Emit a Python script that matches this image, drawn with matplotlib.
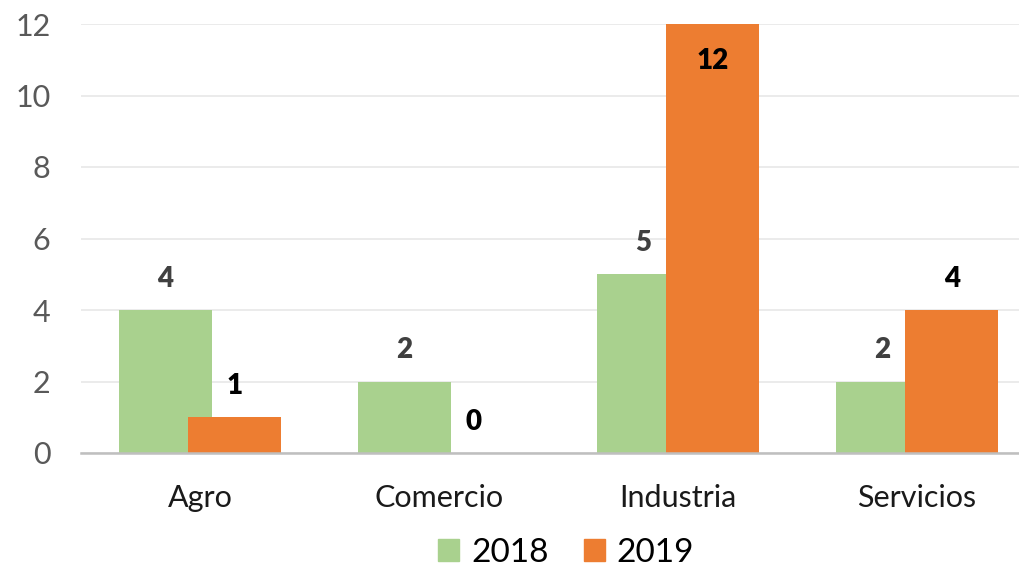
import numpy as np
import matplotlib
matplotlib.use("Agg")
import matplotlib.pyplot as plt
from matplotlib.patches import Patch

plt.rcParams['font.family'] = ['Lato', 'DejaVu Sans']

# data
categories = ["Agro", "Comercio", "Industria", "Servicios"]
years = ["2018", "2019"]
values_2018 = [4, 2, 5, 2]
values_2019 = [1, 0, 12, 4]

green = "#a9d18e"
orange = "#ed7d31"

fig = plt.figure(figsize=(10.19, 5.67), dpi=100)
ax = fig.add_axes([81 / 1019, 1 - 453 / 567, 1 - 81 / 1019, (453 - 24) / 567])

x = np.arange(len(categories))
width = 0.39
offset = 0.146

b1 = ax.bar(x - offset, values_2018, width, color=green, zorder=2)
b2 = ax.bar(x + offset, values_2019, width, color=orange, zorder=3)

# value labels: outside end, except the tallest bar which is inside
for rect, v in zip(b1, values_2018):
    ax.annotate(str(v), (rect.get_x() + rect.get_width() / 2, v),
                xytext=(0, 13), textcoords="offset points", ha="center", va="bottom",
                fontsize=20, fontweight="heavy", color="#404040", zorder=5)
for rect, v in zip(b2, values_2019):
    if v >= 12:
        ax.annotate(str(v), (rect.get_x() + rect.get_width() / 2, v),
                    xytext=(0, -17), textcoords="offset points", ha="center", va="top",
                    fontsize=20, fontweight="heavy", color="black", zorder=5)
    else:
        ax.annotate(str(v), (rect.get_x() + rect.get_width() / 2, v),
                    xytext=(0, 13), textcoords="offset points", ha="center", va="bottom",
                    fontsize=20, fontweight="heavy", color="black", zorder=5)

ax.set_ylim(0, 12)
ax.set_xlim((81 - 200) / 239, (1019 - 200) / 239)
ax.set_yticks(range(0, 13, 2))
ax.set_xticks(x)
ax.set_xticklabels(categories)

ax.yaxis.grid(True, color="#e8e8e8", linewidth=1.2, zorder=0)
ax.set_axisbelow(True)
for s in ["top", "right", "left"]:
    ax.spines[s].set_visible(False)
ax.spines["bottom"].set_color("#bfbfbf")
ax.spines["bottom"].set_linewidth(1.8)
ax.spines["bottom"].set_zorder(4)

ax.tick_params(axis="y", length=0, labelsize=22, labelcolor="#595959", pad=22)
ax.tick_params(axis="x", length=0, labelsize=22, labelcolor="#1a1a1a", pad=22)
for lab in ax.get_yticklabels():
    lab.set_horizontalalignment("right")

handles = [Patch(color=green, label=years[0]), Patch(color=orange, label=years[1])]
fig.legend(handles=handles, loc="center", bbox_to_anchor=(566 / 1019, 1 - 553 / 567),
           ncol=2, frameon=False, fontsize=24, handlelength=0.65, handleheight=0.65,
           handletextpad=0.35, columnspacing=1.05, borderaxespad=0)

fig.savefig("out.png", dpi=100)
